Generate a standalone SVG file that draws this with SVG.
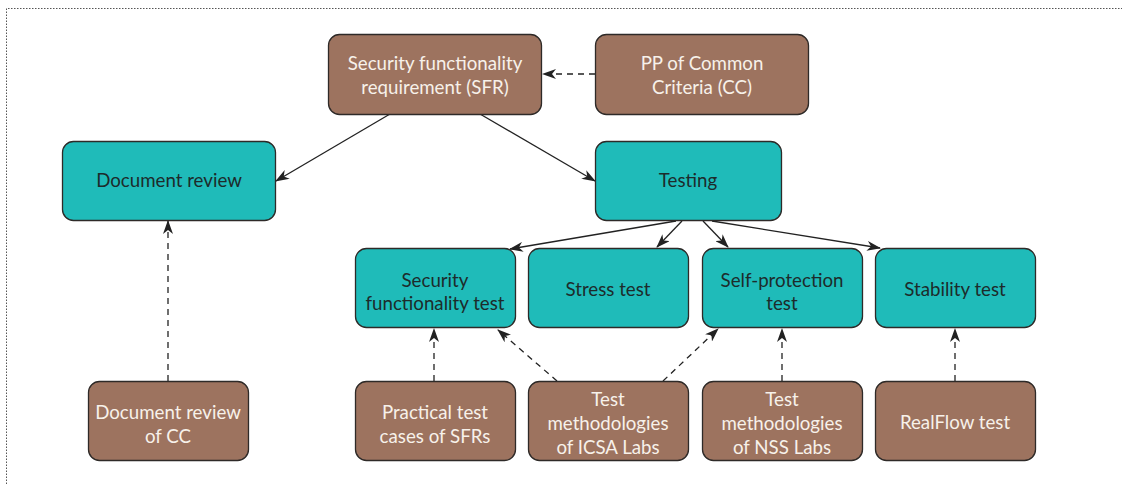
<svg xmlns="http://www.w3.org/2000/svg" width="1122" height="484" viewBox="0 0 1122 484">
<style>
.b rect{fill:#9d735f;stroke:#2e2a28;stroke-width:1.3}
.t rect{fill:#1fbbb9;stroke:#2e2a28;stroke-width:1.3}
text{font-family:Lato,"Open Sans",sans-serif;font-size:18.7px;text-anchor:middle}
.b text{fill:#f7f1ea}
.t text{fill:#1d2b2b}
.c line{stroke:#222;stroke-width:1.3;fill:none}
.c .d{stroke-dasharray:6 5}
</style>
<defs>
<marker id="ah" viewBox="0 0 14 10" refX="13" refY="5" markerWidth="14" markerHeight="10" markerUnits="userSpaceOnUse" orient="auto">
<path d="M0,0 L14,5 L0,10 L4,5 z" fill="#222"/>
</marker>
</defs>
<path d="M6.5,484 V8.5 H1122" fill="none" stroke="#555" stroke-width="1" stroke-dasharray="1.5 1.5"/>
<g class="c">
<line x1="390" y1="114" x2="276" y2="181" marker-end="url(#ah)"/>
<line x1="480" y1="114" x2="595" y2="181" marker-end="url(#ah)"/>
<line class="d" x1="595" y1="74" x2="543" y2="74" marker-end="url(#ah)"/>
<line class="d" x1="168" y1="381" x2="168" y2="221" marker-end="url(#ah)"/>
<line x1="676" y1="221" x2="510" y2="249" marker-end="url(#ah)"/>
<line x1="682" y1="221" x2="657" y2="247" marker-end="url(#ah)"/>
<line x1="703" y1="221" x2="728" y2="247" marker-end="url(#ah)"/>
<line x1="712" y1="221" x2="880" y2="248" marker-end="url(#ah)"/>
<line class="d" x1="434" y1="381" x2="434" y2="329" marker-end="url(#ah)"/>
<line class="d" x1="557" y1="381" x2="498" y2="330" marker-end="url(#ah)"/>
<line class="d" x1="663" y1="381" x2="718" y2="329" marker-end="url(#ah)"/>
<line class="d" x1="782" y1="381" x2="782" y2="329" marker-end="url(#ah)"/>
<line class="d" x1="955" y1="381" x2="955" y2="329" marker-end="url(#ah)"/>
</g>
<g id="sfr" class="b"><rect x="328.5" y="34.5" width="213" height="80" rx="11"/><text x="435" y="70">Security functionality</text><text x="435" y="94">requirement (SFR)</text></g>
<g id="pp" class="b"><rect x="595.5" y="34.5" width="213" height="80" rx="11"/><text x="702" y="70">PP of Common</text><text x="702" y="94">Criteria (CC)</text></g>
<g id="docreview" class="t"><rect x="62.5" y="141.5" width="213" height="79" rx="11"/><text x="169" y="187">Document review</text></g>
<g id="testing" class="t"><rect x="595.5" y="141.5" width="186" height="79" rx="11"/><text x="688" y="187">Testing</text></g>
<g id="sft" class="t"><rect x="355.5" y="248.5" width="160" height="79" rx="11"/><text x="435" y="287">Security</text><text x="435" y="310">functionality test</text></g>
<g id="stress" class="t"><rect x="528.5" y="248.5" width="160" height="79" rx="11"/><text x="608" y="296">Stress test</text></g>
<g id="selfprot" class="t"><rect x="702.5" y="248.5" width="160" height="79" rx="11"/><text x="782" y="287">Self-protection</text><text x="782" y="310">test</text></g>
<g id="stability" class="t"><rect x="875.5" y="248.5" width="160" height="79" rx="11"/><text x="955" y="296">Stability test</text></g>
<g id="doccc" class="b"><rect x="88.5" y="381.5" width="160" height="79" rx="11"/><text x="168" y="419">Document review</text><text x="168" y="443">of CC</text></g>
<g id="practical" class="b"><rect x="355.5" y="381.5" width="160" height="79" rx="11"/><text x="435" y="419">Practical test</text><text x="435" y="443">cases of SFRs</text></g>
<g id="icsa" class="b"><rect x="528.5" y="381.5" width="160" height="79" rx="11"/><text x="608" y="406">Test</text><text x="608" y="430">methodologies</text><text x="608" y="454">of ICSA Labs</text></g>
<g id="nss" class="b"><rect x="702.5" y="381.5" width="160" height="79" rx="11"/><text x="782" y="406">Test</text><text x="782" y="430">methodologies</text><text x="782" y="454">of NSS Labs</text></g>
<g id="realflow" class="b"><rect x="875.5" y="381.5" width="160" height="79" rx="11"/><text x="955" y="429">RealFlow test</text></g>
</svg>
